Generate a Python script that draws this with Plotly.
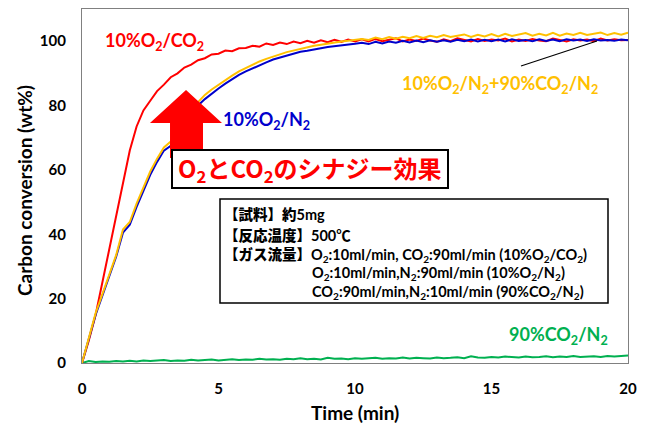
import plotly.graph_objects as go

# ---------------- data ----------------
time_min = [0, 0.25, 0.5, 0.75, 1, 1.25, 1.5, 1.75, 2, 2.25, 2.5, 2.75, 3, 3.25, 3.5, 3.75,
            4, 4.25, 4.5, 4.75, 5, 5.25, 5.5, 5.75, 6, 6.25, 6.5, 6.75, 7, 7.25, 7.5, 7.75,
            8, 8.25, 8.5, 8.75, 9, 9.25, 9.5, 9.75, 10, 10.25, 10.5, 10.75, 11, 11.25, 11.5, 11.75,
            12, 12.25, 12.5, 12.75, 13, 13.25, 13.5, 13.75, 14, 14.25, 14.5, 14.75, 15, 15.25, 15.5, 15.75,
            16, 16.25, 16.5, 16.75, 17, 17.25, 17.5, 17.75, 18, 18.25, 18.5, 18.75, 19, 19.25, 19.5, 19.75, 20]

o2_co2 = [0, 7, 15, 25, 35, 45, 55, 66, 73.5, 78.5, 81.5, 84.5, 86.5, 88.8, 90.0, 91.8,
          92.7, 94.1, 94.7, 95.9, 96.1, 97.1, 96.9, 97.8, 97.9, 98.6, 98.3, 99.3, 98.8, 99.6, 99.1, 99.9,
          99.4, 100.1, 99.5, 100.3, 99.7, 100.4, 99.8, 100.5, 99.9,
          100.6, 99.9, 100.7, 100.0, 100.4, 100.9, 99.9, 100.5, 100.1, 100.8, 100.2, 99.8, 100.6, 100.0,
          100.9, 100.3, 99.9, 100.7, 100.1, 100.5, 100.2, 100.8, 99.9, 100.5, 100.1, 100.7, 100.2, 100.0,
          100.8, 100.4, 99.9, 100.6, 100.2, 100.5, 100.0, 100.8, 100.2, 100.6, 100.3, 100.4]

o2_n2 = [0, 7.5, 15, 21, 27, 33, 40.5, 43, 48.5, 53.5, 58.5, 62.5, 66, 67.5, 71, 74.5,
         77.5, 80, 82, 83.8, 85.3, 86.8, 88.2, 89.5, 90.6, 91.6, 92.6, 93.4, 94.3, 94.9, 95.6, 96.1,
         96.7, 97.0, 97.5, 97.8, 98.2, 98.4, 98.8, 98.9, 99.2,
         99.5, 99.1, 99.8, 99.3, 99.9, 99.5, 100.1, 99.6, 100.2, 99.7, 100.3, 99.8, 100.3, 99.8,
         100.4, 100.0, 100.5, 99.9, 100.4, 100.0, 100.5, 99.9, 100.6, 100.1, 100.4, 100.0, 100.6, 100.1,
         100.5, 100.0, 100.6, 100.2, 100.5, 100.1, 100.6, 100.2, 100.4, 100.1, 100.5, 100.3]

mixed = [0, 8, 15.5, 21.5, 27.5, 33.5, 41.5, 43.8, 49.5, 54.5, 59.5, 63.5, 67, 68.8, 72.3, 75.8,
         78.8, 81.2, 83.3, 85, 86.5, 88, 89.3, 90.6, 91.7, 92.7, 93.7, 94.5, 95.3, 95.9, 96.6, 97.1,
         97.7, 98.1, 98.6, 98.9, 99.3, 99.5, 99.9, 100.1, 100.4,
         100.7, 100.4, 101.1, 100.6, 101.3, 100.8, 101.4, 100.9, 101.6, 101.0, 101.7, 101.2, 101.9, 101.3,
         101.6, 102.1, 101.3, 102.0, 101.5, 102.2, 101.5, 102.3, 101.6, 102.0, 102.5, 101.7, 102.3, 101.8,
         102.6, 101.7, 102.4, 101.9, 102.6, 101.9, 102.2, 102.7, 101.9, 102.5, 102.0, 102.6]

co2_n2 = [0, 0.6, 0.3, 0.5, 0.4, 0.6, 0.5, 0.7, 0.5, 0.8, 0.6, 0.7, 0.9, 0.6, 0.8, 0.7,
          1.0, 0.8, 0.9, 1.1, 0.8, 1.0, 1.2, 0.9, 1.1, 1.0, 1.3, 1.1, 1.2, 1.0, 1.3, 1.2,
          1.5, 1.2, 1.3, 1.1, 1.6, 1.3, 1.4, 1.2, 1.5, 1.3, 1.4, 1.6, 1.3, 1.5, 1.4, 1.7,
          1.4, 1.6, 1.5, 1.4, 1.7, 1.5, 1.6, 1.8, 1.5, 2.1, 1.7, 1.6, 1.9, 1.7, 2.0, 1.8,
          1.7, 2.0, 1.8, 1.9, 2.1, 1.8, 2.0, 1.9, 2.2, 1.9, 2.0, 2.1, 1.9, 2.2, 2.0, 2.1, 2.3]

x_ticks = [0, 5, 10, 15, 20]
y_ticks = [0, 20, 40, 60, 80, 100]

# ---------------- figure ----------------
OFF = 8                       # page body margin of the html page
W, H = 646 - OFF, 432 - OFF
L, R, T, B = 82, 628, 9, 363  # plot area in screen pixels


def P(px, py):
    return (px - L) / (R - L), (B - py) / (B - T)


RED = "#FF0000"
BLUE = "#0000CC"
YEL = "#FFC000"
GRN = "#00B050"
LAT = "Lato, 'Noto Sans CJK JP', sans-serif"
CJK = "'Noto Sans CJK JP', sans-serif"


def jp(s):
    return ("<span style=\"font-family:'Noto Sans CJK JP';font-weight:900\">"
            + s + "</span>")


fig = go.Figure()
for ys, col in [(co2_n2, GRN), (o2_co2, RED), (o2_n2, BLUE), (mixed, YEL)]:
    fig.add_trace(go.Scatter(x=time_min, y=ys, mode="lines",
                             line=dict(color=col, width=2), showlegend=False))

shapes = []
arrow_px = [(186, 90), (222, 123), (203, 123), (203, 158), (170, 158), (170, 123), (150, 123)]
path = "M " + " L ".join("{:.4f},{:.4f}".format(*P(x, y)) for x, y in arrow_px) + " Z"
shapes.append(dict(type="path", xref="paper", yref="paper", path=path,
                   fillcolor=RED, line=dict(width=0), layer="above"))
x0, y0 = P(172, 188)
x1, y1 = P(448, 150)
shapes.append(dict(type="rect", xref="paper", yref="paper", x0=x0, y0=y0, x1=x1, y1=y1,
                   fillcolor="white", line=dict(color="black", width=2), layer="above"))
x0, y0 = P(220, 303)
x1, y1 = P(608, 199)
shapes.append(dict(type="rect", xref="paper", yref="paper", x0=x0, y0=y0, x1=x1, y1=y1,
                   fillcolor="white", line=dict(color="black", width=1.5), layer="above"))
lx0, ly0 = P(521, 66)
lx1, ly1 = P(597, 41)
shapes.append(dict(type="line", xref="paper", yref="paper", x0=lx0, y0=ly0, x1=lx1, y1=ly1,
                   line=dict(color="black", width=1.2), layer="above"))

ann = []


def text(px, py, s, size, color="black", family=LAT, xanchor="left", angle=0):
    ax, ay = P(px, py)
    ann.append(dict(x=ax, y=ay, xref="paper", yref="paper", text=s, showarrow=False,
                    xanchor=xanchor, yanchor="middle", textangle=angle,
                    font=dict(size=size, color=color, family=family, weight="bold")))


text(103, 42, "<b>10%O<sub>2</sub>/CO<sub>2</sub></b>", 18, RED)
text(221, 120, "<b>10%O<sub>2</sub>/N<sub>2</sub></b>", 18, BLUE)
text(400, 84, "<b>10%O<sub>2</sub>/N<sub>2</sub>+90%CO<sub>2</sub>/N<sub>2</sub></b>", 18, YEL)
text(507, 335, "<b>90%CO<sub>2</sub>/N<sub>2</sub></b>", 18, GRN)
text(310, 169, "<b>O<sub>2</sub>とCO<sub>2</sub>のシナジー効果</b>", 24, RED, CJK, xanchor="center")

text(222, 214, "<b>" + jp("【試料】約") + "5mg</b>", 14.5)
text(222, 234, "<b>" + jp("【反応温度】") + "500℃</b>", 14.5)
text(222, 254, "<b>" + jp("【ガス流量】") + "O<sub>2</sub>:10ml/min, CO<sub>2</sub>:90ml/min (10%O<sub>2</sub>/CO<sub>2</sub>)</b>", 14.5)
text(310, 273, "<b>O<sub>2</sub>:10ml/min,N<sub>2</sub>:90ml/min (10%O<sub>2</sub>/N<sub>2</sub>)</b>", 14.5)
text(310, 292, "<b>CO<sub>2</sub>:90ml/min,N<sub>2</sub>:10ml/min (90%CO<sub>2</sub>/N<sub>2</sub>)</b>", 14.5)

text(355, 412, "<b>Time (min)</b>", 19, xanchor="center")
text(24, 191, "<b>Carbon conversion (wt%)</b>", 19, xanchor="center", angle=-90)

fig.update_layout(
    width=W, height=H,
    margin=dict(l=L - OFF, r=W - (R - OFF), t=T - OFF, b=H - (B - OFF), pad=0),
    plot_bgcolor="white", paper_bgcolor="white",
    shapes=shapes, annotations=ann,
    xaxis=dict(range=[0, 20], tickvals=x_ticks, showgrid=False, zeroline=False,
               showline=True, mirror=True, linecolor="#808080", linewidth=1.2,
               ticks="", ticklabelstandoff=12,
               tickfont=dict(family=LAT, size=15, color="black", weight="bold")),
    yaxis=dict(range=[0, 110], tickvals=y_ticks, showgrid=False, zeroline=False,
               showline=True, mirror=True, linecolor="#808080", linewidth=1.2,
               ticks="", ticklabelstandoff=12,
               tickfont=dict(family=LAT, size=15, color="black", weight="bold")),
)

fig.write_html("out.html")
